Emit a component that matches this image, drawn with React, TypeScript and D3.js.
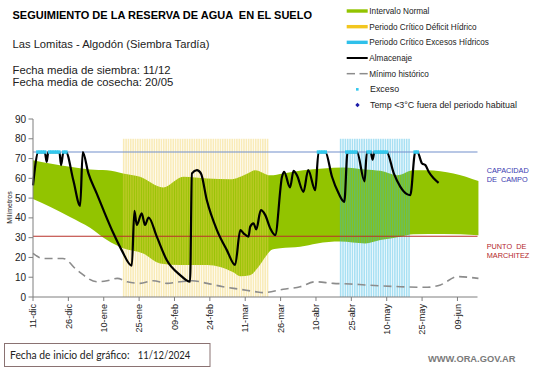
import React from "react";
import * as d3 from "d3";

const W = 541;
const H = 368;
const DAY = 86400000;
const startDate = new Date(Date.UTC(2024, 11, 11));
const endDate = new Date(Date.UTC(2025, 5, 17, 12));
const dayToDate = (d: number) => new Date(startDate.getTime() + d * DAY);

// ---- data ----
const tickDays = [0, 15, 30, 45, 60, 75, 90, 105, 120, 135, 150, 165, 180];
const tickLabels = ["11-dic", "26-dic", "10-ene", "25-ene", "09-feb", "24-feb", "11-mar", "26-mar", "10-abr", "25-abr", "10-may", "25-may", "09-jun"];
const yTicks = [0, 10, 20, 30, 40, 50, 60, 70, 80, 90];

const capacidadCampo = 73.3;
const puntoMarchitez = 30.7;
const periodTop = 80;
const deficitPeriod = ["2025-01-18", "2025-03-20"];
const excessPeriod = ["2025-04-20", "2025-05-19"];

const upperDays = [0, 7.2, 15.7, 24.2, 31.4, 38.2, 45.4, 55.2, 63.7, 73.9, 83.6, 91, 94.2, 100.6, 106.1, 114.6, 123.1, 131.6, 140.9, 147.3, 154.5, 161.3, 167.2, 178.3, 188.9];
const upperValues = [69.2, 67.5, 65.8, 64.5, 64.1, 62.5, 60.8, 55.4, 60.8, 59.9, 59.5, 62.5, 64.1, 61.5, 62.5, 64.1, 65, 65.5, 64.5, 63.8, 61.6, 64.1, 64.1, 62.5, 58.7];
const lowerDays = [0, 7.2, 15.7, 24.2, 31.4, 38.2, 46.7, 53.9, 62.4, 73.9, 84.9, 87.9, 92, 95.5, 99, 101.5, 104.8, 113.3, 120.5, 130.3, 140.9, 147.3, 155.8, 161.3, 174, 188.9];
const lowerValues = [49.5, 45.6, 40.5, 35, 28.8, 24.6, 22, 17, 16.2, 16.2, 12.5, 10.5, 11, 15, 21, 24, 24.6, 25.4, 27.1, 28, 27.1, 28.8, 30.5, 31.7, 31.8, 31.2];

const minDays = [0, 4.2, 12.7, 18.7, 27.2, 31.4, 35.7, 39.9, 45.4, 50.9, 56.9, 62.4, 67.5, 73.9, 80.6, 87.9, 94.2, 97.6, 106.1, 113.3, 119.7, 127.3, 134.5, 140.9, 155.8, 167.2, 172.8, 180, 188.9];
const minValues = [22.1, 19.5, 19.5, 13.6, 7.7, 8.2, 9.4, 7.7, 6.9, 8.2, 6.9, 7.7, 8.2, 6.9, 5.2, 3.9, 2.7, 2.2, 3.9, 5.2, 7.7, 6.9, 6.6, 6.1, 5.2, 4.9, 6.1, 10.3, 9.4];

const storageDays = [0, 2.3, 5, 5.8, 6.5, 11.2, 11.9, 12.9, 14, 17.1, 20, 21.1, 23.5, 27, 29.9, 34.1, 37.6, 41.9, 43, 44, 46.1, 47.5, 49, 52.5, 56.7, 62.4, 66.6, 67.4, 69.5, 71.2, 73.7, 78, 82.2, 85.7, 87.9, 89.3, 91.4, 92.1, 93.5, 94.7, 96.6, 98.5, 100.6, 102.7, 105.6, 106.5, 109, 110.5, 111.9, 114.7, 116.7, 119.7, 121.1, 124, 126.8, 129.6, 132, 133.4, 137.4, 140.6, 141.6, 143.2, 144, 144.8, 150, 153, 155.8, 158.6, 160, 162.1, 163, 165, 166.4, 167.8, 169.9, 172];
const storageValues = [56.5, 73.3, 73.3, 68.3, 73.3, 73.3, 66.7, 73.3, 73.3, 59, 46.1, 73.3, 62.5, 52.4, 43.9, 32.2, 23.7, 15.8, 43.5, 36.4, 42.3, 36.4, 40.2, 30.5, 18.7, 11.1, 7.7, 62.5, 64.1, 62.5, 49, 33.8, 23.7, 16.2, 33.8, 32.2, 30.5, 35.5, 37.2, 34.2, 43.9, 41.4, 34.7, 31.3, 60.8, 63.3, 55.4, 63.8, 61.6, 53.2, 64.1, 54, 73.3, 73.3, 60.8, 52.4, 48.1, 73.3, 73.3, 58.5, 73.3, 73.3, 69.5, 73.3, 73.3, 62.5, 55.7, 52, 51.5, 73.3, 73.3, 67.5, 66.7, 63.3, 60, 57.7];

const excessDays = [2, 3, 4, 5, 7, 8, 9, 10, 11, 13, 14, 121, 122, 123, 124, 133, 134, 135, 136, 137, 142, 143, 145, 146, 147, 148, 149, 150, 162, 163];

const legendItems = [
  { label: "Intervalo Normal", kind: "band", color: "#92c400" },
  { label: "Periodo Crítico Déficit Hídrico", kind: "band", color: "#f2c61f" },
  { label: "Periodo Crítico Excesos Hídricos", kind: "band", color: "#2fc0ea" },
  { label: "Almacenaje", kind: "line", color: "#000" },
  { label: "Mínimo histórico", kind: "dash", color: "#8c8c8c" },
  { label: "Exceso", kind: "dot", color: "#33c8ee" },
  { label: "Temp <3°C fuera del periodo habitual", kind: "diamond", color: "#1c1ca8" },
];

const FONT = "'Liberation Sans', Arial, sans-serif";

export default function App() {
  const x = d3.scaleUtc().domain([startDate, endDate]).range([33, 477.5]);
  const y = d3.scaleLinear().domain([0, 90]).range([297, 119]);
  const xd = (d: number) => x(dayToDate(d));

  const curve = d3.curveMonotoneX;
  const upperPts: [number, number][] = upperDays.map((d, i) => [xd(d), y(upperValues[i])]);
  const lowerPts: [number, number][] = lowerDays.map((d, i) => [xd(d), y(lowerValues[i])]).reverse() as [number, number][];
  const lineGen = d3.line<[number, number]>().x((p) => p[0]).y((p) => p[1]).curve(curve);
  const up = lineGen(upperPts) || "";
  const lo = lineGen(lowerPts) || "";
  const bandPath = up + "L" + lo.slice(1) + "Z";

  const minPath = d3.line<number>().x((d) => xd(d)).y((_, i) => y(minValues[i])).curve(curve)(minDays) || "";
  const storagePath = d3.line<number>().x((d) => xd(d)).y((_, i) => y(storageValues[i])).curve(curve)(storageDays) || "";

  const periodBars = (p: string[], color: string, key: string) => {
    const s = new Date(p[0] + "T00:00:00Z");
    const e = d3.utcDay.offset(new Date(p[1] + "T00:00:00Z"), 1);
    return d3.utcDay.range(s, e).map((dt, i) => {
      const x0 = x(dt);
      const x1 = x(d3.utcDay.offset(dt, 1));
      return (
        <rect key={key + i} x={x0 + 0.3} width={x1 - x0 - 0.75} y={y(periodTop)} height={y(0) - y(periodTop)} fill={color} opacity={0.42} />
      );
    });
  };

  return (
    <svg width={W} height={H} style={{ display: "block", position: "absolute", left: 0, top: 0, background: "#fff" }} fontFamily={FONT}>
      <rect width={W} height={H} fill="#fff" />
      {/* header texts */}
      <text x={12.5} y={19} fontSize={11} fontWeight="bold" fill="#000" style={{ whiteSpace: "pre" }}>SEGUIMIENTO DE LA RESERVA DE AGUA  EN EL SUELO</text>
      <text x={12.5} y={47.7} fontSize={11.2} fill="#222">Las Lomitas - Algodón (Siembra Tardía)</text>
      <text x={12.5} y={74} fontSize={11.3} fill="#222">Fecha media de siembra: 11/12</text>
      <text x={12.5} y={86} fontSize={11.3} fill="#222">Fecha media de cosecha: 20/05</text>

      {/* legend */}
      {legendItems.map((it, i) => {
        const cy = 11 + i * 15.67;
        const big = it.kind === "dot" || it.kind === "diamond";
        return (
          <g key={it.label}>
            {it.kind === "band" && <rect x={346.7} y={cy - 1.7} width={21} height={3.4} fill={it.color} />}
            {it.kind === "line" && <line x1={346.7} x2={367.7} y1={cy} y2={cy} stroke={it.color} strokeWidth={2} />}
            {it.kind === "dash" && (
              <g stroke={it.color} strokeWidth={1.5}>
                <line x1={346.7} x2={355} y1={cy} y2={cy} />
                <line x1={359.5} x2={367.7} y1={cy} y2={cy} />
              </g>
            )}
            {it.kind === "dot" && <rect x={356} y={cy - 1.3} width={2.6} height={2.6} fill={it.color} />}
            {it.kind === "diamond" && <path d={`M357.5,${cy - 2.2}L359.7,${cy}L357.5,${cy + 2.2}L355.3,${cy}Z`} fill={it.color} />}
            <text x={big ? 370 : 369.3} y={cy + 3} fontSize={big ? 8.9 : 8.2} fill="#222">{it.label}</text>
          </g>
        );
      })}

      {/* plot */}
      <path d={bandPath} fill="#92c400" />
      {periodBars(deficitPeriod, "#f0cf55", "d")}
      {periodBars(excessPeriod, "#2fb6e2", "e")}
      <path d={minPath} fill="none" stroke="#8c8c8c" strokeWidth={1.6} strokeDasharray="8,5" />
      <line x1={33} x2={477.5} y1={y(capacidadCampo)} y2={y(capacidadCampo)} stroke="#7390cc" strokeWidth={1.1} />
      <line x1={33} x2={477.5} y1={y(puntoMarchitez)} y2={y(puntoMarchitez)} stroke="#b8302a" strokeWidth={1.1} />
      <path d={storagePath} fill="none" stroke="#000" strokeWidth={2.2} strokeLinejoin="round" />
      {excessDays.map((d) => (
        <rect key={"x" + d} x={xd(d) - 1.6} y={y(capacidadCampo) - 1.7} width={3.2} height={3.4} fill="#33c8ee" />
      ))}

      {/* y axis */}
      <line x1={33} x2={33} y1={y(90)} y2={y(0)} stroke="#7f7f7f" strokeWidth={1} />
      {yTicks.map((t) => (
        <g key={"y" + t}>
          <line x1={28.5} x2={33} y1={y(t)} y2={y(t)} stroke="#7f7f7f" />
          <text x={26} y={y(t)} dy="0.35em" textAnchor="end" fontSize={10} fill="#222">{t}</text>
        </g>
      ))}
      <text transform={`translate(9.5,207.5) rotate(-90)`} textAnchor="middle" dy="0.35em" fontSize={7} fill="#222">Milímetros</text>

      {/* x axis */}
      <line x1={33} x2={477.5} y1={y(0)} y2={y(0)} stroke="#7f7f7f" strokeWidth={1} />
      {tickDays.map((d, i) => (
        <g key={"t" + d}>
          <line x1={xd(d)} x2={xd(d)} y1={y(0)} y2={y(0) + 4} stroke="#7f7f7f" />
          <text transform={`translate(${xd(d)},${y(0) + 7}) rotate(-90)`} textAnchor="end" dy="0.35em" fontSize={9.2} fill="#222">{tickLabels[i]}</text>
        </g>
      ))}

      {/* right labels */}
      <g fontSize={7.3} fill="#3a3ab0">
        <text x={486.7} y={172.7}>CAPACIDAD</text>
        <text x={486.7} y={181.7} style={{ whiteSpace: "pre" }}>DE  CAMPO</text>
      </g>
      <g fontSize={7.3} fill="#b3262a">
        <text x={486.7} y={249} style={{ whiteSpace: "pre" }}>PUNTO  DE</text>
        <text x={486.7} y={257.7}>MARCHITEZ</text>
      </g>

      {/* footer */}
      <rect x={4.5} y={343.5} width={205.5} height={23} fill="#fff" stroke="#8a7272" strokeWidth={1} />
      <text x={10} y={359} fontSize={11} fill="#222" fontFamily="Lato, 'Open Sans', sans-serif" textLength={119.5} lengthAdjust="spacingAndGlyphs">Fecha de inicio del gráfico:</text>
      <text x={137.7} y={359} fontSize={11} fill="#222" fontFamily="Lato, 'Open Sans', sans-serif" textLength={52.7} lengthAdjust="spacingAndGlyphs">11/12/2024</text>
      <text x={515.5} y={362} textAnchor="end" fontSize={9.3} fontWeight="bold" fill="#7a7a7a">WWW.ORA.GOV.AR</text>
    </svg>
  );
}
